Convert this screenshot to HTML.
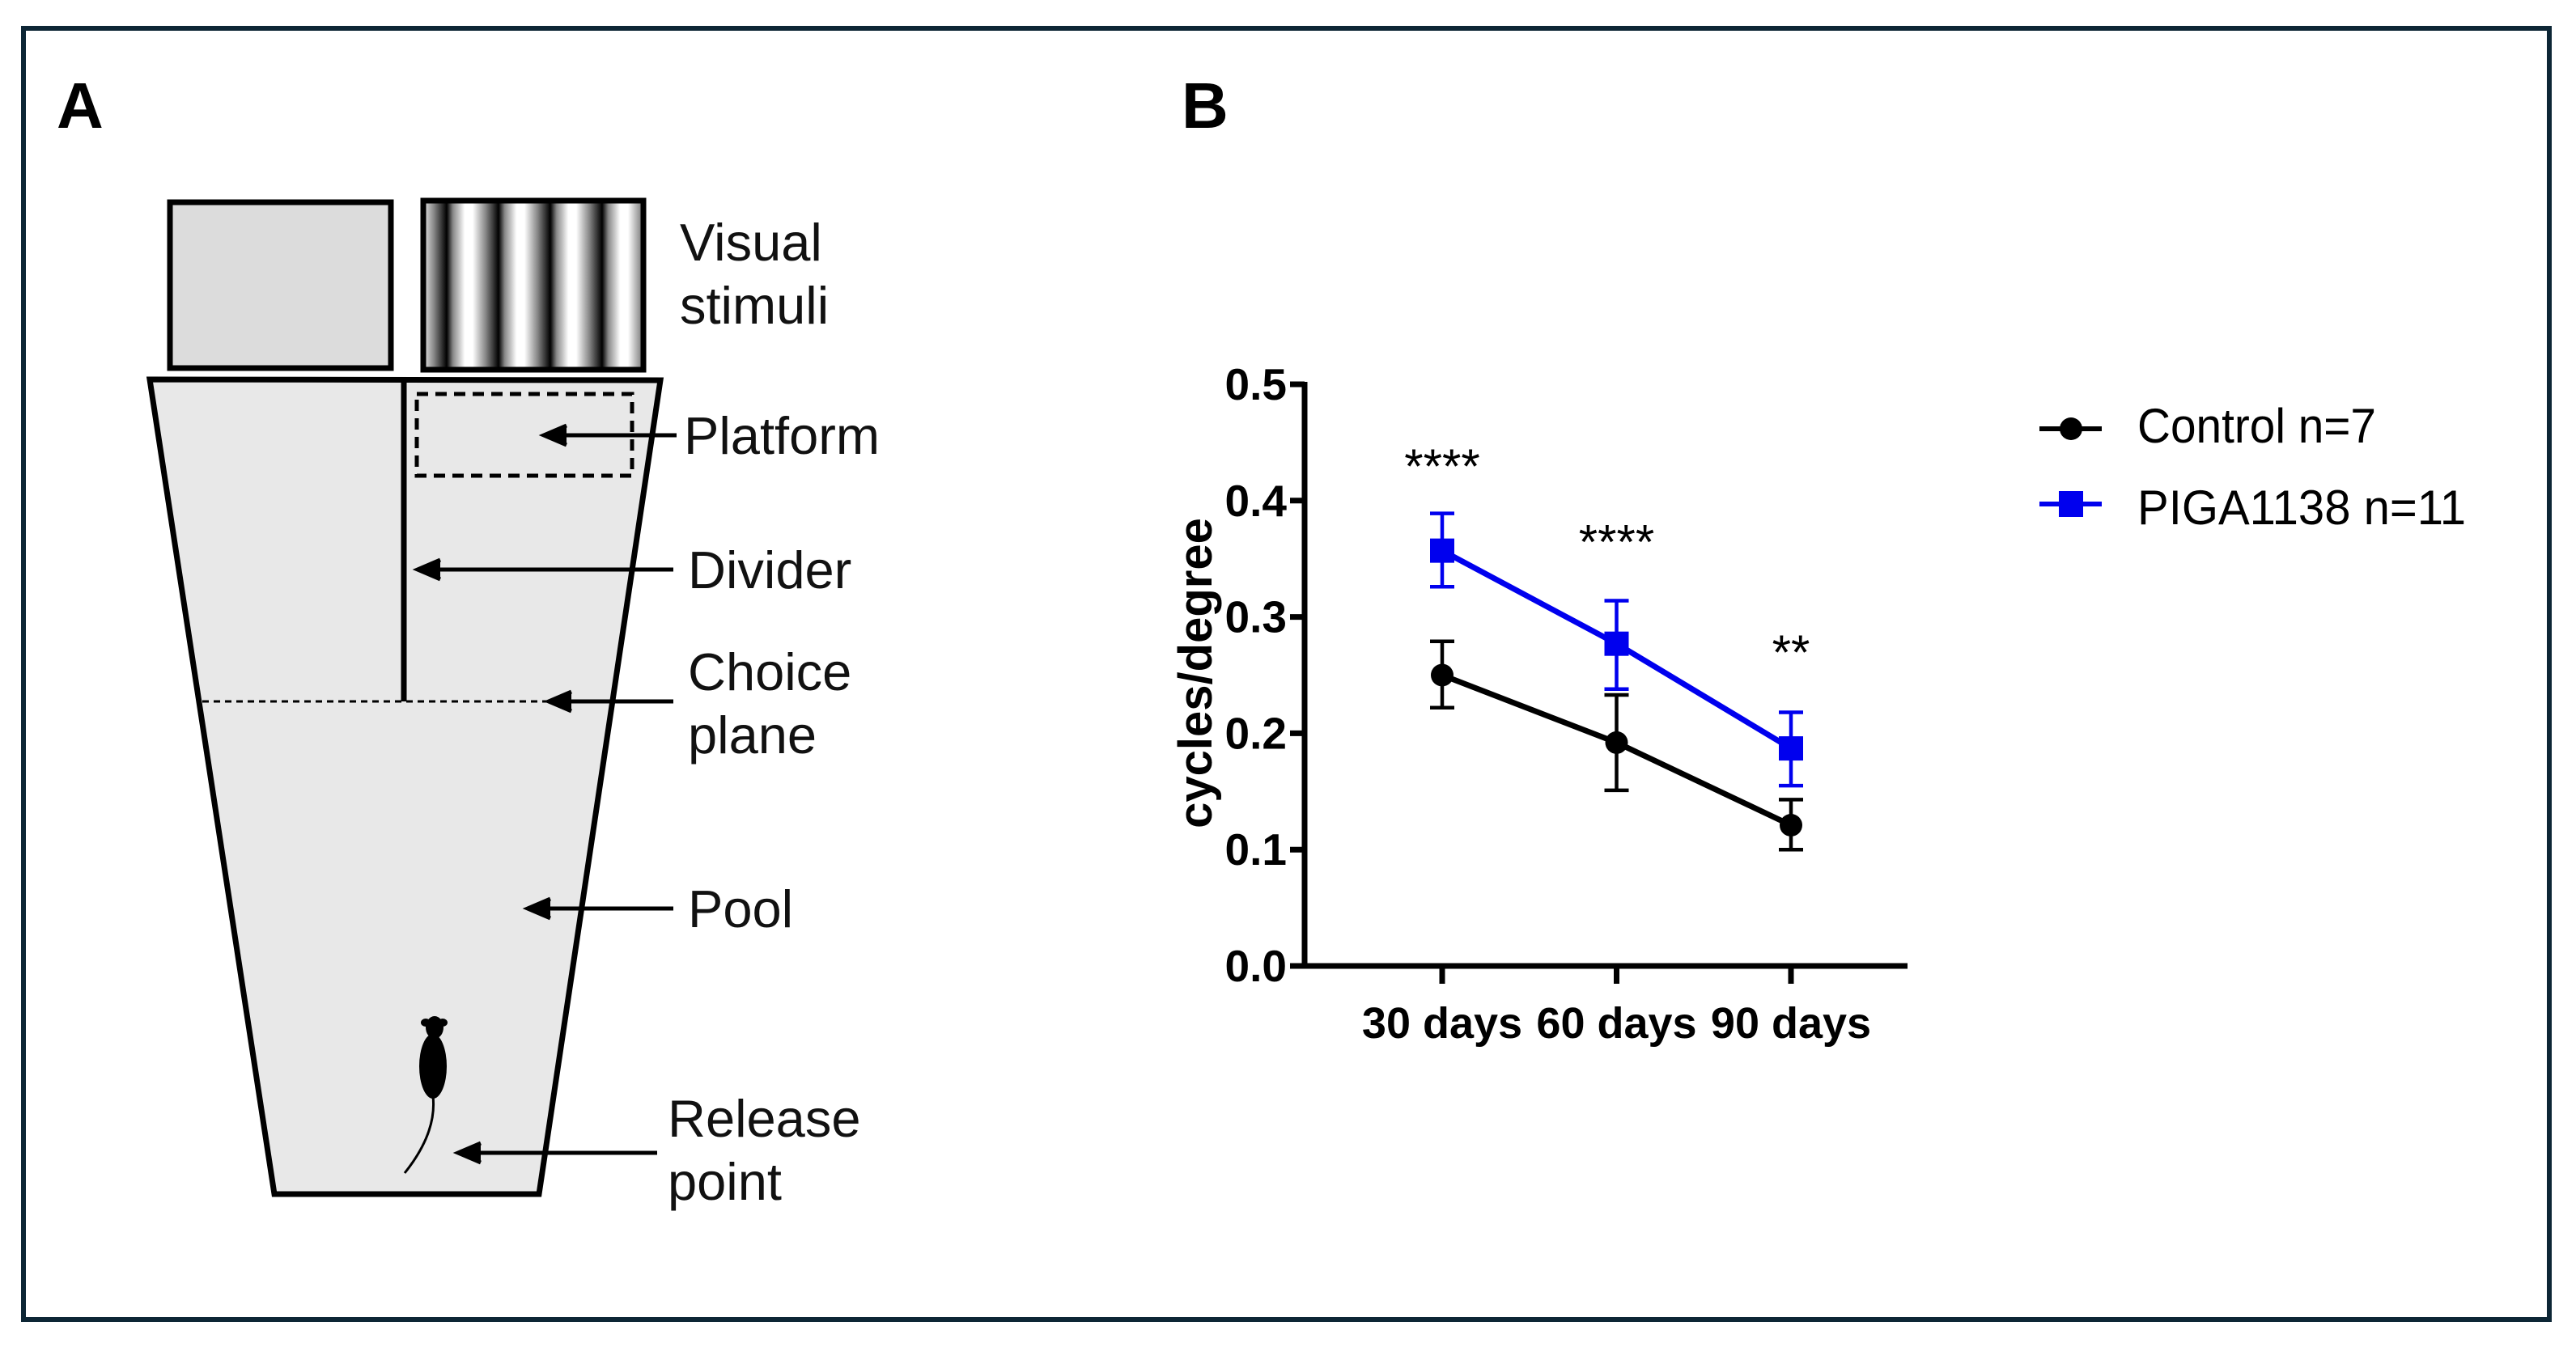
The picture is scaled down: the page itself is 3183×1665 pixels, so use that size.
<!DOCTYPE html>
<html><head><meta charset="utf-8"><style>
body{margin:0;background:#fff;}
svg{display:block;font-family:"Liberation Sans",Arial,sans-serif;}
</style></head><body>
<svg width="3183" height="1665" viewBox="0 0 3183 1665">
<defs>
<linearGradient id="grat" gradientUnits="userSpaceOnUse" x1="520" y1="0" x2="584" y2="0" spreadMethod="repeat">
<stop offset="0" stop-color="#fff"/><stop offset="0.25" stop-color="#888"/><stop offset="0.5" stop-color="#000"/><stop offset="0.62" stop-color="#888"/><stop offset="0.85" stop-color="#fff"/><stop offset="1" stop-color="#fff"/>
</linearGradient>
</defs>
<rect x="29" y="35" width="3121" height="1596" fill="none" stroke="#0d2635" stroke-width="6"/>
<g>
<text x="70" y="158" font-size="80" font-weight="bold">A</text>
<rect x="210" y="250" width="273" height="205" fill="#dcdcdc" stroke="#000" stroke-width="7"/>
<rect x="523" y="248" width="272" height="209" fill="url(#grat)" stroke="#000" stroke-width="7"/>
<polygon points="185,469 816,470 666,1476 339,1476" fill="#e8e8e8" stroke="#000" stroke-width="7"/>
<line x1="499" y1="469" x2="499" y2="867" stroke="#000" stroke-width="7"/>
<line x1="250" y1="867" x2="690" y2="867" stroke="#000" stroke-width="3" stroke-dasharray="8,6"/>
<rect x="515" y="487" width="266" height="101" fill="none" stroke="#000" stroke-width="5" stroke-dasharray="14,9"/>
<g stroke="#000" stroke-width="5">
<line x1="836" y1="538" x2="678" y2="538"/><polyline points="700,526 672,538 700,550" fill="#000"/>
<line x1="832" y1="704" x2="522" y2="704"/><polyline points="544,692 516,704 544,716" fill="#000"/>
<line x1="832" y1="867" x2="684" y2="867"/><polyline points="706,855 678,867 706,879" fill="#000"/>
<line x1="832" y1="1123" x2="658" y2="1123"/><polyline points="680,1111 652,1123 680,1135" fill="#000"/>
<line x1="812" y1="1425" x2="572" y2="1425"/><polyline points="594,1413 566,1425 594,1437" fill="#000"/>
</g>
<g>
<ellipse cx="535" cy="1318" rx="17" ry="40" fill="#000"/>
<ellipse cx="537" cy="1270" rx="11" ry="14" fill="#000"/>
<ellipse cx="526" cy="1264" rx="6" ry="5" fill="#000"/><ellipse cx="547" cy="1264" rx="6" ry="5" fill="#000"/>
<path d="M535 1355 Q540 1400 500 1450" stroke="#000" stroke-width="3" fill="none"/>
</g>
<g font-size="65" fill="#111">
<text x="840" y="322">Visual<tspan x="840" y="400">stimuli</tspan></text>
<text x="845" y="561">Platform</text>
<text x="850" y="727">Divider</text>
<text x="850" y="853">Choice<tspan x="850" y="931">plane</tspan></text>
<text x="850" y="1146">Pool</text>
<text x="825" y="1405">Release<tspan x="825" y="1483">point</tspan></text>
</g>
</g>
<g>
<text x="1460" y="158" font-size="80" font-weight="bold">B</text>
<g id="chart"></g>
<g>
<g>
<line x1="2520" y1="530" x2="2597" y2="530" stroke="#000" stroke-width="6"/>
<circle cx="2559" cy="530" r="14" fill="#000"/>
<text x="2641" y="547" font-size="60" textLength="295" lengthAdjust="spacingAndGlyphs">Control n=7</text>
</g>
<g>
<line x1="2520" y1="623" x2="2597" y2="623" stroke="#0000ee" stroke-width="6"/>
<rect x="2544" y="607" width="30" height="32" fill="#0000ee"/>
<text x="2641" y="648" font-size="60" textLength="406" lengthAdjust="spacingAndGlyphs">PIGA1138 n=11</text>
</g>
</g>
</g>
</svg>
<script>
const categories = ["30 days", "60 days", "90 days"];
const controlMean = [0.250, 0.192, 0.121];
const controlLow = [0.222, 0.151, 0.100];
const controlHigh = [0.279, 0.233, 0.143];
const pigaMean = [0.357, 0.277, 0.187];
const pigaLow = [0.326, 0.238, 0.155];
const pigaHigh = [0.389, 0.314, 0.218];
const stars = ["****", "****", "**"];
const starY = [0.436, 0.371, 0.276];
const yTicks = [0, 0.1, 0.2, 0.3, 0.4, 0.5];
const yTickLabels = ["0.0", "0.1", "0.2", "0.3", "0.4", "0.5"];

const NS = "http://www.w3.org/2000/svg";
const X0 = 1612, X1 = 2357, Y0 = 1194, Y1 = 475;
function yScale(v){ return Y0 - (v / 0.5) * (Y0 - Y1); }
function xScale(i){ return 1782 + i * 215.5; }
const chart = document.getElementById('chart');
function mk(tag, attrs, parent){
  const e = document.createElementNS(NS, tag);
  for (const k in attrs) e.setAttribute(k, attrs[k]);
  (parent || chart).appendChild(e);
  return e;
}
let e;
e = mk('line', {x1: X0, y1: Y1 - 3, x2: X0, y2: Y0 + 3, stroke: '#000', 'stroke-width': 7});


e = mk('line', {x1: X0 - 3, y1: Y0, x2: X1, y2: Y0, stroke: '#000', 'stroke-width': 7});


yTicks.forEach((v, i) => {
  const y = yScale(v);
  e = mk('line', {x1: X0 - 18, y1: y, x2: X0, y2: y, stroke: '#000', 'stroke-width': 7});
  
  
  e = mk('text', {x: X0 - 22, y: y + 19, 'font-size': 55, 'font-weight': 'bold', 'text-anchor': 'end'});
  e.textContent = yTickLabels[i];
  
  
});
categories.forEach((c, i) => {
  const x = xScale(i);
  e = mk('line', {x1: x, y1: Y0, x2: x, y2: Y0 + 22, stroke: '#000', 'stroke-width': 7});
  
  
  e = mk('text', {x: x, y: 1283, 'font-size': 54, 'font-weight': 'bold', 'text-anchor': 'middle'});
  e.textContent = c;
  
  
});
e = mk('text', {x: 0, y: 0, 'font-size': 58, 'font-weight': 'bold', 'text-anchor': 'middle', transform: 'translate(1497,832) rotate(-90)'});
e.textContent = 'cycles/degree';



function series(mean, lo, hi, color, shape, name){
  const g = mk('g', {});
  
  
  const pts = mean.map((v, i) => xScale(i) + ',' + yScale(v)).join(' ');
  e = mk('polyline', {points: pts, fill: 'none', stroke: color, 'stroke-width': 7}, g);
  
  
  mean.forEach((v, i) => {
    const x = xScale(i);
    e = mk('path', {d: `M${x} ${yScale(lo[i])}V${yScale(hi[i])}M${x-15} ${yScale(lo[i])}H${x+15}M${x-15} ${yScale(hi[i])}H${x+15}`, stroke: color, 'stroke-width': 4.5, fill: 'none'}, g);
    
    
    if (shape === 'circle') e = mk('circle', {cx: x, cy: yScale(v), r: 14, fill: color}, g);
    else e = mk('rect', {x: x - 15, y: yScale(v) - 15, width: 30, height: 30, fill: color}, g);
    
    
  });
}
series(controlMean, controlLow, controlHigh, '#000', 'circle', 'control-series');
series(pigaMean, pigaLow, pigaHigh, '#0000ee', 'square', 'piga1138-series');
stars.forEach((s, i) => {
  e = mk('text', {x: xScale(i), y: yScale(starY[i]) + 30, 'font-size': 60, 'text-anchor': 'middle'});
  e.textContent = s;
  
  
});
</script>
</body></html>
